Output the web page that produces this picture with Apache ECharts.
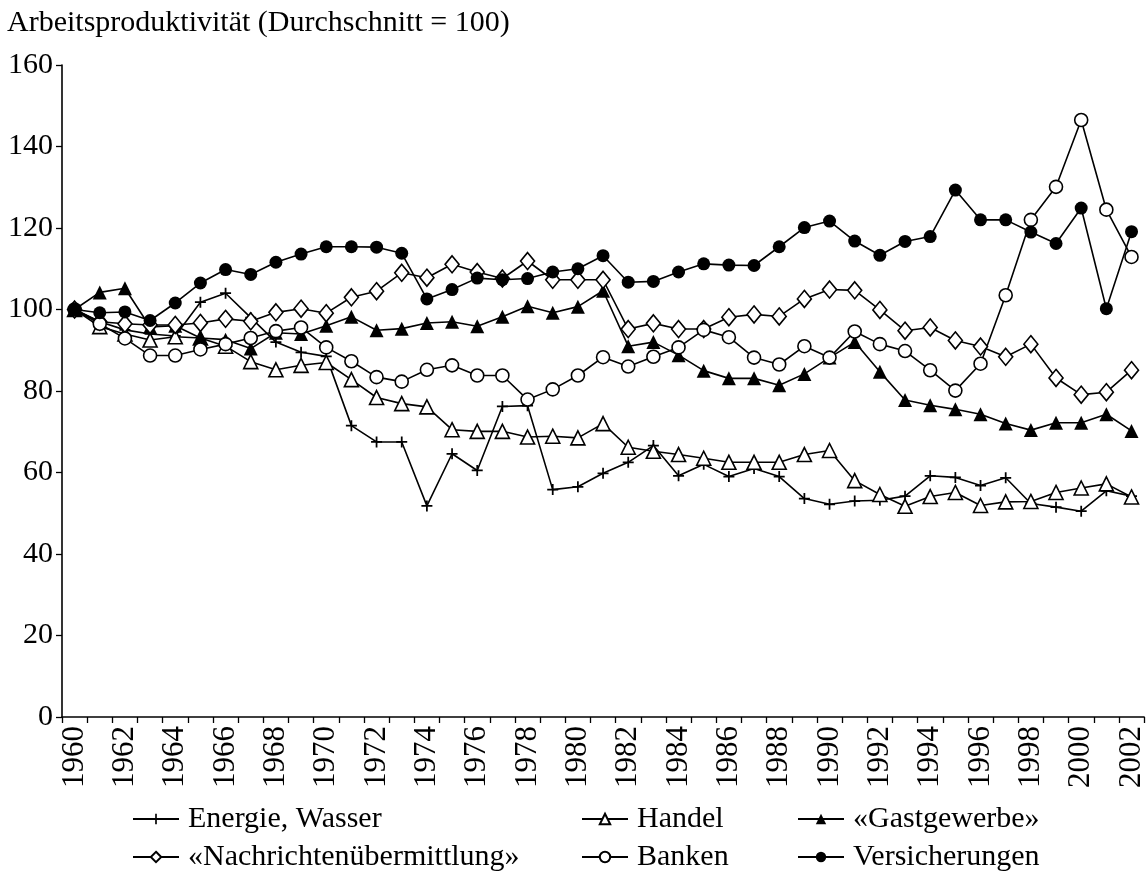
<!DOCTYPE html>
<html>
<head>
<meta charset="utf-8">
<script src="https://cdn.jsdelivr.net/npm/echarts@6/dist/echarts.min.js"></script>
<style>
  html, body { margin: 0; padding: 0; background: #fff; }
  #main { width: 1147px; height: 871px; }
</style>
</head>
<body>
<div id="main"></div>
<script>
  // Jahre 1960 - 2002
  var years = [];
  for (var y = 1960; y <= 2002; y++) years.push(String(y));

  var yTicks = [0, 20, 40, 60, 80, 100, 120, 140, 160];

  var energie = [100, 97, 95, 94, 93.5, 101.8, 104, 98, 92, 89.5, 88.5, 71.5, 67.5, 67.5, 51.8, 64.6, 60.5, 76.2, 76.4, 55.8, 56.5,
    59.8, 62.5, 66.6, 59.2, 62, 59, 61, 59, 53.6, 52.2, 53, 53.2, 54.2, 59.2, 58.8, 56.8, 58.7, 52.4, 51.5, 50.5, 55.5, 54.2];
  var handel = [100, 95.8, 94, 92.5, 93.3, 93, 91, 87.2, 85.2, 86.3, 87, 82.8, 78.4, 76.9, 76.1, 70.5, 70.1, 70.1, 68.7, 68.9, 68.5,
    72, 66.2, 65.2, 64.4, 63.5, 62.5, 62.5, 62.5, 64.4, 65.4, 58, 54.6, 51.7, 54.1, 55.1, 51.9, 52.8, 52.9, 55.1, 56.2, 57.2, 54];
  var gastgewerbe = [100, 104.2, 105.2, 95.7, 96, 93, 92.6, 90.4, 94.3, 94, 96, 98.2, 94.9, 95.3, 96.7, 97, 95.9, 98.2, 100.8, 99.2, 100.7,
    104.6, 91, 92, 88.8, 85, 83.1, 83.1, 81.4, 84.2, 88.2, 92, 84.7, 77.8, 76.5, 75.5, 74.3, 72, 70.4, 72.2, 72.2, 74.3, 70.2];
  var nachrichten = [100, 97, 96.5, 96.2, 96.2, 96.7, 97.7, 97.1, 99.3, 100.2, 99.1, 103, 104.5, 109, 107.8, 111.1, 109.2, 107.6, 111.9, 107.3, 107.3,
    107.3, 95.2, 96.6, 95.2, 95.2, 98.1, 98.8, 98.3, 102.6, 104.9, 104.7, 99.9, 94.8, 95.6, 92.4, 90.9, 88.4, 91.5, 83.2, 79.1, 79.7, 85.1];
  var banken = [100, 96.5, 92.9, 88.7, 88.7, 90.2, 91.5, 93, 94.7, 95.6, 90.7, 87.3, 83.4, 82.3, 85.2, 86.3, 83.8, 83.8, 77.9, 80.4, 83.8,
    88.3, 86, 88.4, 90.7, 95, 93.2, 88.2, 86.5, 91, 88.2, 94.6, 91.5, 89.8, 85.1, 80.1, 86.7, 103.5, 122, 130.1, 146.5, 124.5, 112.9];
  var versicherungen = [100, 99.2, 99.4, 97.3, 101.6, 106.5, 109.8, 108.6, 111.6, 113.6, 115.4, 115.4, 115.3, 113.8, 102.6, 104.9, 107.7, 107.3, 107.6, 109.2, 110,
    113.2, 106.7, 106.9, 109.2, 111.2, 110.9, 110.8, 115.4, 120.1, 121.7, 116.8, 113.3, 116.7, 117.9, 129.3, 122, 122, 119, 116.2, 124.9, 100.2, 119.1];

  var names = ['Energie, Wasser', 'Handel', '«Gastgewerbe»', '«Nachrichtenübermittlung»', 'Banken', 'Versicherungen'];

  var font = 'Liberation Serif';
  var plus = 'path://M4.2,0H5.8V4.2H10V5.8H5.8V10H4.2V5.8H0V4.2H4.2Z';

  function mkSeries(name, data, symbol, size, filled) {
    return {
      name: name,
      type: 'line',
      data: data,
      symbol: symbol,
      symbolSize: size,
      showAllSymbol: true,
      lineStyle: { color: '#000', width: 1.6 },
      itemStyle: {
        color: filled ? '#000' : '#fff',
        borderColor: '#000',
        borderWidth: filled ? 0 : 1.6
      },
      emphasis: { disabled: true },
      animation: false
    };
  }

  function mkLegend(name, left, top) {
    return {
      data: [name],
      left: left,
      top: top,
      itemWidth: 46,
      itemHeight: 13,
      itemGap: 0,
      textStyle: { fontFamily: font, fontSize: 30, color: '#000', padding: [0, 0, 0, 4] }
    };
  }

  var myChart = echarts.init(document.getElementById('main'));

  var option = {
    backgroundColor: '#fff',
    title: {
      text: 'Arbeitsproduktivität (Durchschnitt = 100)',
      left: 2,
      top: 3,
      textStyle: { fontFamily: font, fontSize: 30, fontWeight: 'normal', color: '#000' }
    },
    legend: [
      mkLegend(names[0], 127, 799),
      mkLegend(names[3], 127, 837),
      mkLegend(names[1], 576, 799),
      mkLegend(names[4], 576, 837),
      mkLegend(names[2], 792, 799),
      mkLegend(names[5], 792, 837)
    ],
    grid: { left: 62, top: 65, width: 1084, height: 652 },
    xAxis: {
      type: 'category',
      data: years,
      boundaryGap: true,
      axisLine: { lineStyle: { color: '#000', width: 1.6 } },
      axisTick: { show: true, interval: 0, length: 6, lineStyle: { color: '#000', width: 1.3 } },
      axisLabel: { interval: 1, rotate: 90, margin: 9, fontFamily: font, fontSize: 31, color: '#000' },
      splitLine: { show: false }
    },
    yAxis: {
      type: 'value',
      min: yTicks[0],
      max: yTicks[yTicks.length - 1],
      interval: 20,
      axisLine: { show: true, lineStyle: { color: '#000', width: 1.6 } },
      axisTick: { show: true, length: 6, lineStyle: { color: '#000', width: 1.3 } },
      axisLabel: { margin: 9, fontFamily: font, fontSize: 30, color: '#000' },
      splitLine: { show: false }
    },
    series: [
      mkSeries(names[0], energie, plus, 11, true),
      mkSeries(names[1], handel, 'triangle', 14, false),
      mkSeries(names[2], gastgewerbe, 'triangle', 14, true),
      mkSeries(names[3], nachrichten, 'diamond', [14, 17], false),
      mkSeries(names[4], banken, 'circle', 13, false),
      mkSeries(names[5], versicherungen, 'circle', 13, true)
    ]
  };

  myChart.setOption(option);
</script>
</body>
</html>
